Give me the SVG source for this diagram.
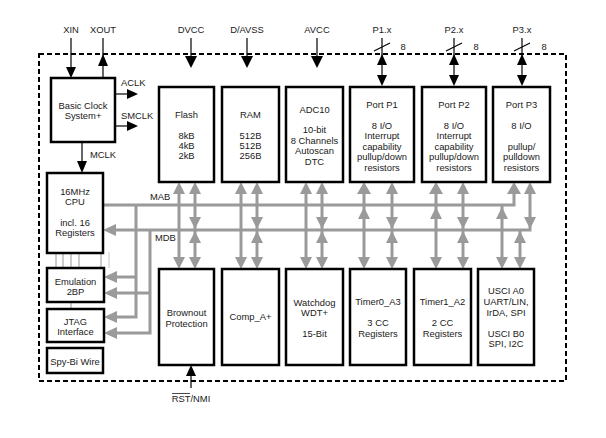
<svg xmlns="http://www.w3.org/2000/svg" width="606" height="438" viewBox="0 0 606 438">
<style>
text{font-family:"Liberation Sans",Arial,sans-serif;font-size:9.4px;fill:#1a1a1a;text-anchor:middle}
.lbl{text-anchor:start}
.box{fill:#fff;stroke:#000;stroke-width:2.5}
.blk{stroke:#000;stroke-width:1.2;fill:none}
.bh{fill:#000;stroke:none}
.gl{stroke:#9a9a9a;stroke-width:3;fill:none}
.gh{fill:#9a9a9a;stroke:none}
.thin{stroke:#999;stroke-width:1}
</style>
<rect width="606" height="438" fill="#fff"/>
<rect x="39" y="54" width="527" height="327" fill="none" stroke="#000" stroke-width="2" stroke-dasharray="5 3"/>

<g id="connectors">
  <line class="blk" x1="71" y1="38" x2="71" y2="70"/><polygon class="bh" points="71,78 66,67 76,67"/>
  <line class="blk" x1="103" y1="60" x2="103" y2="78"/><polygon class="bh" points="103,54 98,66 108,66"/>
  <line class="blk" x1="103" y1="38" x2="103" y2="56"/>
  <line class="blk" x1="191" y1="38" x2="191" y2="60"/><polygon class="bh" points="191,68 185,56 197,56"/>
  <line class="blk" x1="247" y1="38" x2="247" y2="60"/><polygon class="bh" points="247,68 241,56 253,56"/>
  <line class="blk" x1="317" y1="38" x2="317" y2="60"/><polygon class="bh" points="317,68 311,56 323,56"/>
  <line class="blk" x1="382" y1="38" x2="382" y2="80"/><line class="blk" x1="374" y1="51" x2="390" y2="43"/>
  <polygon class="bh" points="382,54 377,65 387,65"/><polygon class="bh" points="382,86 377,75 387,75"/>
  <line class="blk" x1="454" y1="38" x2="454" y2="80"/><line class="blk" x1="446" y1="51" x2="462" y2="43"/>
  <polygon class="bh" points="454,54 449,65 459,65"/><polygon class="bh" points="454,86 449,75 459,75"/>
  <line class="blk" x1="522" y1="38" x2="522" y2="80"/><line class="blk" x1="514" y1="51" x2="530" y2="43"/>
  <polygon class="bh" points="522,54 517,65 527,65"/><polygon class="bh" points="522,86 517,75 527,75"/>
  <line class="blk" x1="115" y1="94" x2="130" y2="94"/><polygon class="bh" points="138,94 127,89 127,99"/>
  <line class="blk" x1="115" y1="126" x2="130" y2="126"/><polygon class="bh" points="138,126 127,121 127,131"/>
  <line class="blk" x1="82" y1="142" x2="82" y2="165"/><polygon class="bh" points="82,173 77,161 87,161"/>
  <line class="blk" x1="191" y1="388" x2="191" y2="372"/><polygon class="bh" points="191,365 186,376 196,376"/>

  <line class="thin" x1="56" y1="253" x2="56" y2="268"/>
  <line class="thin" x1="63" y1="253" x2="63" y2="268"/>
  <line class="thin" x1="71" y1="253" x2="71" y2="268"/>
  <line class="thin" x1="79" y1="253" x2="79" y2="268"/>
  <line class="thin" x1="101" y1="253" x2="101" y2="268"/>
  <line x1="109" y1="252" x2="109" y2="268" stroke="#c8c8c8" stroke-width="1"/>
  <line class="thin" x1="71" y1="302" x2="71" y2="309"/>

  <polyline class="gl" points="103,205 514,205 514,192"/>
  <polyline class="gl" points="114,230 530,230 530,192"/>
  <polygon class="gh" points="103,230 116,224 116,236"/>
  <polygon class="gh" points="514,182 507,194 521,194"/>
  <polygon class="gh" points="530,182 524,194 536,194"/>
  <polygon class="gh" points="530,229 524,217 536,217"/>

  <polyline class="gl" points="136,205 136,317 114,317"/>
  <polyline class="gl" points="150,230 150,333 114,333"/>
  <line class="gl" x1="136" y1="277" x2="114" y2="277"/>
  <line class="gl" x1="150" y1="293" x2="114" y2="293"/>
  <polygon class="gh" points="104,277 117,271 117,283"/>
  <polygon class="gh" points="104,293 117,287 117,299"/>
  <polygon class="gh" points="104,317 117,311 117,323"/>
  <polygon class="gh" points="104,333 117,327 117,339"/>

  <line class="gl" x1="179" y1="190" x2="179" y2="260"/>
  <polygon class="gh" points="179,182 173,194 185,194"/><polygon class="gh" points="179,269 173,257 185,257"/>
  <line class="gl" x1="241" y1="190" x2="241" y2="260"/>
  <polygon class="gh" points="241,182 235,194 247,194"/><polygon class="gh" points="241,269 235,257 247,257"/>
  <line class="gl" x1="306" y1="190" x2="306" y2="260"/>
  <polygon class="gh" points="306,182 300,194 312,194"/><polygon class="gh" points="306,269 300,257 312,257"/>

  <line class="gl" x1="364" y1="190" x2="364" y2="260"/>
  <polygon class="gh" points="364,182 357,194 371,194"/><polygon class="gh" points="364,207 358,219 370,219"/><polygon class="gh" points="364,269 358,257 370,257"/>
  <line class="gl" x1="436" y1="190" x2="436" y2="260"/>
  <polygon class="gh" points="436,182 429,194 443,194"/><polygon class="gh" points="436,207 430,219 442,219"/><polygon class="gh" points="436,269 430,257 442,257"/>
  <line class="gl" x1="502" y1="205" x2="502" y2="260"/>
  <polygon class="gh" points="502,207 496,219 508,219"/><polygon class="gh" points="502,269 496,257 508,257"/>

  <line class="gl" x1="195" y1="190" x2="195" y2="260"/>
  <polygon class="gh" points="195,182 189,194 201,194"/><polygon class="gh" points="195,229 189,217 201,217"/><polygon class="gh" points="195,231 189,243 201,243"/><polygon class="gh" points="195,269 189,257 201,257"/>
  <line class="gl" x1="257" y1="190" x2="257" y2="260"/>
  <polygon class="gh" points="257,182 251,194 263,194"/><polygon class="gh" points="257,229 251,217 263,217"/><polygon class="gh" points="257,231 251,243 263,243"/><polygon class="gh" points="257,269 251,257 263,257"/>
  <line class="gl" x1="322" y1="190" x2="322" y2="260"/>
  <polygon class="gh" points="322,182 316,194 328,194"/><polygon class="gh" points="322,229 316,217 328,217"/><polygon class="gh" points="322,231 316,243 328,243"/><polygon class="gh" points="322,269 316,257 328,257"/>
  <line class="gl" x1="392" y1="190" x2="392" y2="260"/>
  <polygon class="gh" points="392,182 386,194 398,194"/><polygon class="gh" points="392,229 386,217 398,217"/><polygon class="gh" points="392,231 386,243 398,243"/><polygon class="gh" points="392,269 386,257 398,257"/>
  <line class="gl" x1="463" y1="190" x2="463" y2="260"/>
  <polygon class="gh" points="463,182 457,194 469,194"/><polygon class="gh" points="463,229 457,217 469,217"/><polygon class="gh" points="463,231 457,243 469,243"/><polygon class="gh" points="463,269 457,257 469,257"/>
  <line class="gl" x1="520" y1="230" x2="520" y2="260"/>
  <polygon class="gh" points="520,231 514,243 526,243"/><polygon class="gh" points="520,269 514,257 526,257"/>
</g>

<g id="labels">
  <text x="71" y="33">XIN</text>
  <text x="103" y="33">XOUT</text>
  <text x="191" y="33">DVCC</text>
  <text x="247" y="33">D/AVSS</text>
  <text x="317" y="33">AVCC</text>
  <text x="382" y="33">P1.x</text>
  <text x="454" y="33">P2.x</text>
  <text x="522" y="33">P3.x</text>
  <text x="403" y="50">8</text>
  <text x="476" y="50">8</text>
  <text x="544" y="50">8</text>
  <text class="lbl" x="121" y="86">ACLK</text>
  <text class="lbl" x="121" y="119">SMCLK</text>
  <text class="lbl" x="90" y="158">MCLK</text>
  <text class="lbl" x="150" y="200">MAB</text>
  <text class="lbl" x="155" y="241">MDB</text>
  <text x="191" y="402">RST/NMI</text>
  <line x1="172" y1="393.5" x2="190" y2="393.5" stroke="#1a1a1a" stroke-width="0.8"/>
</g>

<g id="clock"><rect class="box" x="51" y="78" width="64" height="64"/>
  <text x="83" y="108.5">Basic Clock</text><text x="83" y="118.5">System+</text></g>
<g id="flash"><rect class="box" x="159" y="87" width="55" height="95"/>
  <text x="186.5" y="117.5">Flash</text><text x="186.5" y="138.5">8kB</text><text x="186.5" y="148.5">4kB</text><text x="186.5" y="159">2kB</text></g>
<g id="ram"><rect class="box" x="222" y="87" width="57" height="95"/>
  <text x="250.5" y="117.5">RAM</text><text x="250.5" y="138.5">512B</text><text x="250.5" y="148.5">512B</text><text x="250.5" y="159">256B</text></g>
<g id="adc10"><rect class="box" x="286" y="87" width="57" height="95"/>
  <text x="314.5" y="112.5">ADC10</text><text x="314.5" y="132.5">10-bit</text><text x="314.5" y="143.5">8 Channels</text><text x="314.5" y="154">Autoscan</text><text x="314.5" y="165">DTC</text></g>
<g id="port1"><rect class="box" x="350" y="87" width="64" height="95"/>
  <text x="382" y="107.5">Port P1</text><text x="382" y="128.5">8 I/O</text><text x="382" y="139">Interrupt</text><text x="382" y="149.5">capability</text><text x="382" y="160">pullup/down</text><text x="382" y="170.5">resistors</text></g>
<g id="port2"><rect class="box" x="422" y="87" width="64" height="95"/>
  <text x="454" y="107.5">Port P2</text><text x="454" y="128.5">8 I/O</text><text x="454" y="139">Interrupt</text><text x="454" y="149.5">capability</text><text x="454" y="160">pullup/down</text><text x="454" y="170.5">resistors</text></g>
<g id="port3"><rect class="box" x="493" y="87" width="57" height="95"/>
  <text x="521.5" y="107.5">Port P3</text><text x="521.5" y="128.5">8 I/O</text><text x="521.5" y="149.5">pullup/</text><text x="521.5" y="160">pulldown</text><text x="521.5" y="170.5">resistors</text></g>
<g id="cpu"><rect class="box" x="47" y="173" width="56" height="80"/>
  <text x="75" y="194.5">16MHz</text><text x="75" y="204.5">CPU</text><text x="75" y="225.5">incl. 16</text><text x="75" y="236">Registers</text></g>
<g id="emulation"><rect class="box" x="47" y="268" width="57" height="34"/>
  <text x="75.5" y="284.5">Emulation</text><text x="75.5" y="294.5">2BP</text></g>
<g id="jtag"><rect class="box" x="47" y="309" width="57" height="33"/>
  <text x="75.5" y="325">JTAG</text><text x="75.5" y="335">Interface</text></g>
<g id="spybiwire"><rect class="box" x="47" y="348" width="56" height="25"/>
  <text x="75" y="364.5">Spy-Bi Wire</text></g>
<g id="brownout"><rect class="box" x="159" y="269" width="55" height="96"/>
  <text x="186.5" y="315.5">Brownout</text><text x="186.5" y="326.5">Protection</text></g>
<g id="comp"><rect class="box" x="222" y="269" width="57" height="96"/>
  <text x="250.5" y="319.5">Comp_A+</text></g>
<g id="watchdog"><rect class="box" x="286" y="269" width="57" height="96"/>
  <text x="314.5" y="305.5">Watchdog</text><text x="314.5" y="315.5">WDT+</text><text x="314.5" y="336.5">15-Bit</text></g>
<g id="timer0"><rect class="box" x="350" y="269" width="56" height="96"/>
  <text x="378" y="304.5">Timer0_A3</text><text x="378" y="325.5">3 CC</text><text x="378" y="336.5">Registers</text></g>
<g id="timer1"><rect class="box" x="414" y="269" width="57" height="96"/>
  <text x="442.5" y="304.5">Timer1_A2</text><text x="442.5" y="325.5">2 CC</text><text x="442.5" y="336.5">Registers</text></g>
<g id="usci"><rect class="box" x="478" y="269" width="56" height="96"/>
  <text x="506" y="293.5">USCI A0</text><text x="506" y="304.5">UART/LIN,</text><text x="506" y="315.5">IrDA, SPI</text><text x="506" y="336.5">USCI B0</text><text x="506" y="347">SPI, I2C</text></g>
</svg>
